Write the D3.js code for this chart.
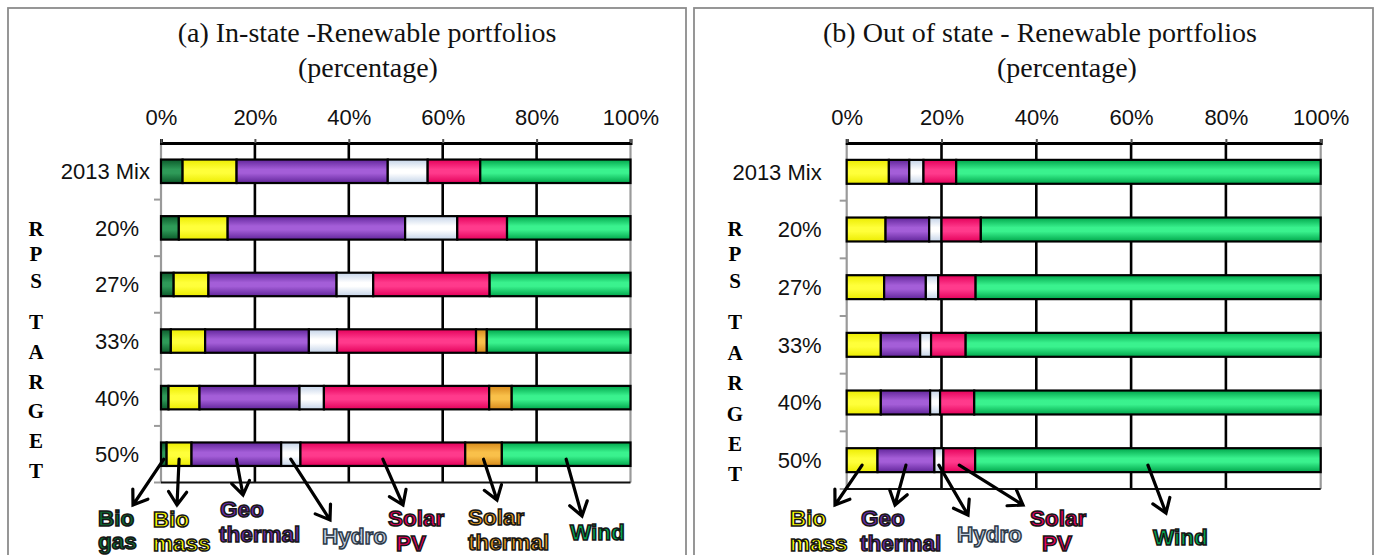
<!DOCTYPE html>
<html>
<head>
<meta charset="utf-8">
<script src="https://cdn.jsdelivr.net/npm/d3@7"></script>
<style>
  body { margin: 0; background: #fff; }
  svg { display: block; }
</style>
</head>
<body>
<svg id="chart" width="1379" height="555"></svg>
<script>
// ---- data ---------------------------------------------------------------
const categories = ["2013 Mix", "20%", "27%", "33%", "40%", "50%"];
const sources = ["Biogas", "Biomass", "Geothermal", "Hydro", "Solar PV", "Solar thermal", "Wind"];
const tickValues = [0, 20, 40, 60, 80, 100];

// In-state renewable portfolio shares (percent of renewable generation)
const inBiogas       = [4.6, 3.8, 2.7, 2.1, 1.6, 1.2];
const inBiomass      = [11.5, 10.4, 7.4, 7.3, 6.6, 5.3];
const inGeothermal   = [32.2, 37.8, 27.3, 22.1, 21.3, 19.1];
const inHydro        = [8.5, 11.1, 7.8, 6.0, 5.2, 4.1];
const inSolarPV      = [11.2, 10.6, 24.8, 29.6, 35.2, 35.1];
const inSolarThermal = [0, 0, 0, 2.3, 4.8, 7.8];
const inWind         = [32.0, 26.3, 30.0, 30.6, 25.3, 27.4];

// Out-of-state renewable portfolio shares (percent)
const outBiogas       = [0, 0, 0, 0, 0, 0];
const outBiomass      = [8.9, 8.2, 7.9, 7.2, 7.2, 6.5];
const outGeothermal   = [4.3, 9.2, 8.8, 8.3, 10.4, 12.0];
const outHydro        = [3.0, 2.6, 2.6, 2.3, 2.1, 1.9];
const outSolarPV      = [6.9, 8.3, 7.9, 7.3, 7.2, 6.7];
const outSolarThermal = [0, 0, 0, 0, 0, 0];
const outWind         = [76.9, 71.7, 72.8, 74.9, 73.1, 72.9];

const rpsLetters = ["R", "P", "S", "T", "A", "R", "G", "E", "T"];

// ---- styling --------------------------------------------------------------
const shades = {
  "Biogas":        ["#0b5a2a", "#2e9a58"],
  "Biomass":       ["#ecec00", "#ffff3a"],
  "Geothermal":    ["#61259a", "#a45ed8"],
  "Hydro":         ["#c4d3e8", "#ffffff"],
  "Solar PV":      ["#e4005a", "#ff3a8c"],
  "Solar thermal": ["#d6891a", "#f9c04a"],
  "Wind":          ["#00a64b", "#3af28e"]
};
const labelColors = {
  "Biogas": "#0b6a32", "Biomass": "#ffff00", "Geothermal": "#6c2ca6",
  "Hydro": "#c2cfe0", "Solar PV": "#e8005e", "Solar thermal": "#e59a1e", "Wind": "#00a850"
};
const labelLines = {
  "Biogas": ["Bio", "gas"], "Biomass": ["Bio", "mass"], "Geothermal": ["Geo", "thermal"],
  "Hydro": ["Hydro"], "Solar PV": ["Solar", "PV"], "Solar thermal": ["Solar", "thermal"], "Wind": ["Wind"]
};

const svg = d3.select("#chart");
const defs = svg.append("defs");
sources.forEach((s, i) => {
  const g = defs.append("linearGradient").attr("id", "grad" + i)
    .attr("x1", 0).attr("y1", 0).attr("x2", 0).attr("y2", 1);
  const [dark, light] = shades[s];
  [[0, dark], [0.42, light], [0.58, light], [1, dark]].forEach(([o, c]) =>
    g.append("stop").attr("offset", o).attr("stop-color", c));
});

const SANS = "'Liberation Sans', Arial, sans-serif";
const SERIF = "'Liberation Serif', 'Times New Roman', serif";

function drawPanel(cfg) {
  const g = svg.append("g");

  // outer frame
  g.append("rect").attr("x", cfg.frame[0]).attr("y", 8)
    .attr("width", cfg.frame[1] - cfg.frame[0]).attr("height", 580)
    .attr("fill", "none").attr("stroke", "#8c8c8c").attr("stroke-width", 1.8);

  // title
  cfg.title.forEach(t => g.append("text").attr("x", t[1]).attr("y", t[2])
    .attr("text-anchor", "middle").attr("font-family", SERIF).attr("font-size", 28)
    .attr("fill", "#111").text(t[0]));

  const x = d3.scaleLinear().domain([0, 100]).range([cfg.x0, cfg.x1]);
  const y = d3.scaleBand().domain(categories).range([cfg.y0, cfg.y1])
    .paddingInner(0.585).paddingOuter(0.2925);
  const step = y.step();

  // gridlines
  g.append("g").selectAll("line").data(tickValues.filter(d => d > 0 && d < 100)).join("line")
    .attr("x1", d => x(d)).attr("x2", d => x(d))
    .attr("y1", cfg.y0).attr("y2", cfg.y1)
    .attr("stroke", "#000").attr("stroke-width", 2.6);

  // plot-area edges
  [cfg.x0, cfg.x1].forEach(px => g.append("line").attr("x1", px).attr("x2", px)
    .attr("y1", cfg.y0).attr("y2", cfg.y1).attr("stroke", "#9a9a9a").attr("stroke-width", 2.2));
  g.append("line").attr("x1", cfg.x0).attr("x2", cfg.x1).attr("y1", cfg.y1).attr("y2", cfg.y1)
    .attr("stroke", "#111").attr("stroke-width", 2);

  // category boundary ticks on the left edge
  d3.range(1, categories.length + 1).forEach(i => g.append("line")
    .attr("x1", cfg.x0 - 7).attr("x2", cfg.x0).attr("y1", cfg.y0 + i * step).attr("y2", cfg.y0 + i * step)
    .attr("stroke", "#9a9a9a").attr("stroke-width", 2));

  // top percentage axis
  const axis = d3.axisTop(x).tickValues(tickValues).tickFormat(d => d + "%")
    .tickSize(4).tickSizeOuter(4).tickPadding(14);
  g.append("g").attr("transform", `translate(0,${cfg.y0})`).call(axis)
    .call(s => s.select(".domain").attr("stroke", "#000").attr("stroke-width", 3))
    .call(s => s.selectAll(".tick line").attr("stroke", "#555").attr("stroke-width", 2))
    .call(s => s.selectAll(".tick text").attr("font-size", 22).attr("font-family", SANS).attr("fill", "#111"));

  // stacked bars
  const rows = categories.map((c, i) => {
    const r = { category: c };
    sources.forEach((s, k) => { r[s] = cfg.series[k][i]; });
    return r;
  });
  const stacked = d3.stack().keys(sources)(rows);
  stacked.forEach((layer, k) => {
    g.append("g").selectAll("rect").data(layer.filter(d => d[1] - d[0] > 0)).join("rect")
      .attr("x", d => x(d[0])).attr("width", d => x(d[1]) - x(d[0]))
      .attr("y", d => y(d.data.category)).attr("height", y.bandwidth())
      .attr("fill", `url(#grad${k})`).attr("stroke", "#000").attr("stroke-width", 2.2);
  });

  // category labels
  g.append("g").selectAll("text").data(categories).join("text")
    .attr("x", (d, i) => cfg.x0 - (i === 0 ? cfg.mixGap : cfg.catGap))
    .attr("y", d => y(d) + y.bandwidth() / 2).attr("dy", "0.36em")
    .attr("text-anchor", "end").attr("font-family", SANS).attr("font-size", 22)
    .attr("fill", "#111").text(d => d);

  // "RPS TARGET" column
  g.append("g").selectAll("text").data(rpsLetters).join("text")
    .attr("x", cfg.rpsX).attr("y", (d, i) => cfg.rpsY[i]).attr("dy", "0.35em")
    .attr("text-anchor", "middle").attr("font-family", SERIF).attr("font-weight", "bold")
    .attr("font-size", 21).attr("fill", "#000").text(d => d);

  // callout arrows from the 50% bar to the source names
  const last = categories[categories.length - 1];
  const yBar = y(last) + y.bandwidth() / 2 + 5;
  cfg.callouts.forEach(c => {
    const k = sources.indexOf(c.source);
    const seg = stacked[k][categories.length - 1];
    const sx = x((seg[0] + seg[1]) / 2);
    const [tx, ty] = c.tip;
    const ang = Math.atan2(ty - yBar, tx - sx);
    const len = 16, spread = Math.PI / 5.2;
    const a1 = [tx - len * Math.cos(ang - spread), ty - len * Math.sin(ang - spread)];
    const a2 = [tx - len * Math.cos(ang + spread), ty - len * Math.sin(ang + spread)];
    g.append("path")
      .attr("d", `M${sx},${yBar}L${tx},${ty}M${a1[0]},${a1[1]}L${tx},${ty}L${a2[0]},${a2[1]}`)
      .attr("fill", "none").attr("stroke", "#000").attr("stroke-width", 3.2)
      .attr("stroke-linejoin", "miter").attr("stroke-linecap", "round");

    const lines = labelLines[c.source];
    lines.forEach((txt, j) => {
      g.append("text").attr("x", c.label[j][0]).attr("y", c.label[j][1])
        .attr("font-family", SANS).attr("font-weight", "bold").attr("font-size", 22.5)
        .attr("fill", labelColors[c.source])
        .attr("stroke", c.source === "Hydro" ? "#2e3a48" : "#161616").attr("stroke-width", 1.5)
        .text(txt);
    });
  });
}

drawPanel({
  frame: [8, 686],
  x0: 161, x1: 630.5, y0: 143, y1: 482.5,
  mixGap: 11, catGap: 22,
  rpsX: 36, rpsY: [229, 254, 281, 322, 352, 382, 411, 441, 471],
  title: [["(a) In-state -Renewable portfolios", 367, 42], ["(percentage)", 368, 77]],
  series: [inBiogas, inBiomass, inGeothermal, inHydro, inSolarPV, inSolarThermal, inWind],
  callouts: [
    { source: "Biogas", tip: [133, 505], label: [[98, 526], [98, 549]] },
    { source: "Biomass", tip: [177, 505], label: [[153, 527], [153, 551]] },
    { source: "Geothermal", tip: [243, 495], label: [[220, 517], [219, 542]] },
    { source: "Hydro", tip: [330, 520], label: [[322, 544]] },
    { source: "Solar PV", tip: [403, 505], label: [[388, 526], [396, 551]] },
    { source: "Solar thermal", tip: [497, 500], label: [[468, 525], [468, 550]] },
    { source: "Wind", tip: [582, 516], label: [[570, 540]] }
  ]
});

drawPanel({
  frame: [694, 1373],
  x0: 846.7, x1: 1320.7, y0: 143, y1: 489,
  mixGap: 25, catGap: 25,
  rpsX: 735, rpsY: [229, 254, 281, 322, 353, 383, 414, 444, 474],
  title: [["(b) Out of state - Renewable portfolios", 1040, 42], ["(percentage)", 1067, 77]],
  series: [outBiogas, outBiomass, outGeothermal, outHydro, outSolarPV, outSolarThermal, outWind],
  callouts: [
    { source: "Biomass", tip: [835, 505], label: [[790, 526], [790, 551]] },
    { source: "Geothermal", tip: [895, 505], label: [[861, 526], [860, 551]] },
    { source: "Hydro", tip: [968, 515], label: [[957, 542]] },
    { source: "Solar PV", tip: [1023, 505], label: [[1030, 526], [1042, 551]] },
    { source: "Wind", tip: [1166, 513], label: [[1153, 545]] }
  ]
});
</script>
</body>
</html>
